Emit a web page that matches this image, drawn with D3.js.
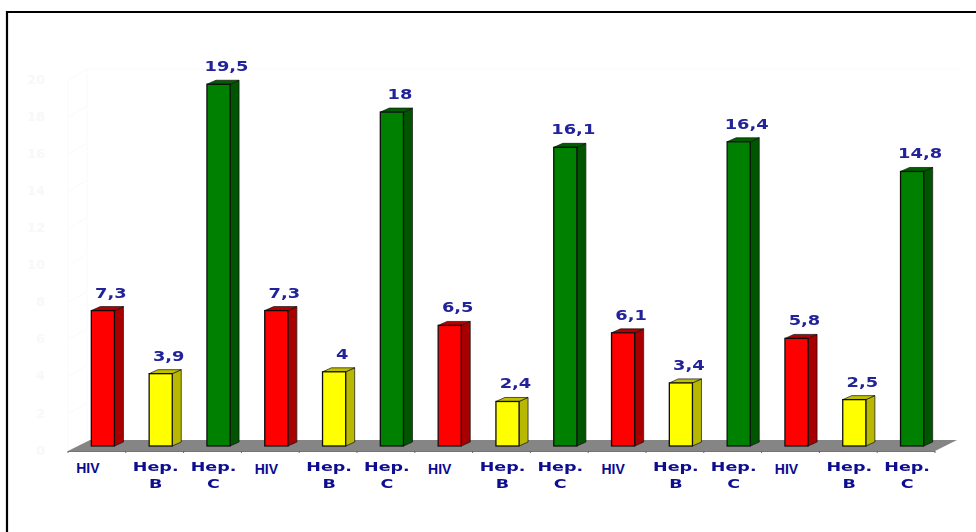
<!DOCTYPE html>
<html lang="en">
<head>
    <meta charset="UTF-8">
    <title>HIV Hep. B Hep. C</title>
    <script src="https://d3js.org/d3.v7.min.js"></script>
    <style>
        html, body { margin: 0; padding: 0; background: #fff; }
        svg { display: block; }
    </style>
</head>
<body>
<svg width="976" height="532"></svg>
<script>
    const categories = ["HIV", "Hep. B", "Hep. C", "HIV", "Hep. B", "Hep. C", "HIV", "Hep. B", "Hep. C",
        "HIV", "Hep. B", "Hep. C", "HIV", "Hep. B", "Hep. C"];
    const values = [7.3, 3.9, 19.5, 7.3, 4, 18, 6.5, 2.4, 16.1, 6.1, 3.4, 16.4, 5.8, 2.5, 14.8];
    const yTicks = [0, 2, 4, 6, 8, 10, 12, 14, 16, 18, 20];

    const frontColor = {"HIV": "#ff0000", "Hep. B": "#ffff00", "Hep. C": "#008000"};
    const sideColor = {"HIV": "#a80000", "Hep. B": "#b8b800", "Hep. C": "#005400"};
    const topColor = {"HIV": "#b80000", "Hep. B": "#c0c000", "Hep. C": "#006000"};

    const depthX = 9, depthY = 4;
    const floorDepthX = 22, floorDepthY = 11;
    const floorLeft = 68, floorRight = 935;

    const svg = d3.select("svg");

    const defs = svg.append("defs");
    defs.append("filter").attr("id", "soft")
        .append("feGaussianBlur").attr("stdDeviation", 0.45);
    defs.append("filter").attr("id", "softer")
        .append("feGaussianBlur").attr("stdDeviation", 0.7);

    const x = d3.scaleBand()
        .domain(d3.range(values.length))
        .range([floorLeft + 6, floorRight + 6])
        .paddingInner(0.6)
        .paddingOuter(0.3);

    const y = d3.scaleLinear().domain([0, 20]).range([446, 75]);
    const floorY = y(0);

    // stretch a text sideways to the wider look of the picture
    function stretch(sel, k) {
        sel.each(function() {
            d3.select(this)
                .attr("textLength", this.getComputedTextLength() * k)
                .attr("lengthAdjust", "spacingAndGlyphs");
        });
    }

    // frame
    svg.append("path")
        .attr("d", "M7,532V12H976")
        .attr("fill", "none")
        .attr("stroke", "#000")
        .attr("stroke-width", 2.2);

    // very faint back wall
    const wall = svg.append("g").attr("stroke", "#fafafa").attr("fill", "none");
    wall.append("path").attr("d", `M68,${y(20) + 5}V${y(0) + 5}`);
    wall.append("path").attr("d", `M87,${y(20) - 6}V${y(0) - 6}`);
    wall.append("path").attr("d", `M87,${y(20) - 6}H958`);
    wall.selectAll(".grid").data(yTicks).join("path")
        .attr("class", "grid")
        .attr("d", d => `M68,${y(d) + 5}L87,${y(d) - 6}`);

    // faint y axis
    const yAxis = svg.append("g")
        .attr("transform", "translate(48,4)")
        .call(d3.axisLeft(y).tickValues(yTicks).tickSize(0));
    yAxis.select(".domain").remove();
    yAxis.selectAll("text")
        .attr("fill", "#f8f8f8")
        .attr("font-family", "'DejaVu Sans', sans-serif")
        .attr("font-weight", "bold")
        .attr("font-size", 13);

    // floor
    svg.append("path")
        .attr("d", `M${floorLeft},${floorY + 5}L${floorLeft + floorDepthX},${floorY + 5 - floorDepthY}H${floorRight + floorDepthX}L${floorRight},${floorY + 5}Z`)
        .attr("fill", "#858585");
    svg.append("path")
        .attr("d", `M${floorLeft},${floorY + 5.5}H${floorRight}`)
        .attr("stroke", "#5f7f7f")
        .attr("stroke-width", 1);

    const step = x.step();
    svg.append("g").selectAll("path").data(d3.range(values.length + 1)).join("path")
        .attr("d", d => `M${floorLeft + d * step},${floorY + 5}v2`)
        .attr("stroke", "#666");

    // bars
    const bars = svg.append("g").attr("filter", "url(#soft)")
        .selectAll("g").data(values).join("g");

    bars.append("path")
        .attr("d", (d, i) => {
            const r = x(i) + x.bandwidth();
            return `M${r},${y(d)}l${depthX},${-depthY}V${floorY - depthY}l${-depthX},${depthY}Z`;
        })
        .attr("fill", (d, i) => sideColor[categories[i]])
        .attr("stroke", "#111").attr("stroke-width", 0.7);

    bars.append("path")
        .attr("d", (d, i) => `M${x(i)},${y(d)}l${depthX},${-depthY}h${x.bandwidth()}l${-depthX},${depthY}Z`)
        .attr("fill", (d, i) => topColor[categories[i]])
        .attr("stroke", "#111").attr("stroke-width", 0.7);

    bars.append("rect")
        .attr("x", (d, i) => x(i))
        .attr("y", d => y(d))
        .attr("width", x.bandwidth())
        .attr("height", d => floorY - y(d))
        .attr("fill", (d, i) => frontColor[categories[i]])
        .attr("stroke", "#111")
        .attr("stroke-width", 1.3);

    // value labels
    svg.append("g").attr("filter", "url(#soft)")
        .selectAll("text").data(values).join("text")
        .attr("x", (d, i) => x(i) + x.bandwidth() / 2 + 8)
        .attr("y", d => y(d) - 13)
        .attr("text-anchor", "middle")
        .attr("font-family", "'DejaVu Sans', sans-serif")
        .attr("font-weight", "bold")
        .attr("font-size", 13.5)
        .attr("fill", "#22229a")
        .text(d => String(d).replace(".", ","))
        .call(stretch, 1.32);

    // category labels, hep ones on two lines
    const catCenter = i => x(i) + x.bandwidth() / 2;
    const labels = svg.append("g").attr("fill", "#0a0a90").attr("font-weight", "bold")
        .attr("text-anchor", "middle");

    labels.selectAll(".hiv").data(d3.range(categories.length).filter(i => categories[i] === "HIV")).join("text")
        .attr("class", "hiv")
        .attr("x", i => catCenter(i) - (i === 0 ? 15 : 10))
        .attr("y", i => i === 0 ? 473 : 474)
        .attr("font-family", "'Liberation Sans', sans-serif")
        .attr("font-size", 14)
        .text(i => categories[i]);

    const hepLines = d3.range(categories.length)
        .filter(i => categories[i] !== "HIV")
        .flatMap(i => categories[i].split(" ").map((part, k) => ({i, k, part})));

    labels.append("g").attr("filter", "url(#softer)")
        .selectAll("text").data(hepLines).join("text")
        .attr("x", d => catCenter(d.i) - 5)
        .attr("y", d => 471 + d.k * 17)
        .attr("font-family", "'DejaVu Sans', sans-serif")
        .attr("font-size", 12.5)
        .text(d => d.part)
        .call(stretch, 1.4);
</script>
</body>
</html>
